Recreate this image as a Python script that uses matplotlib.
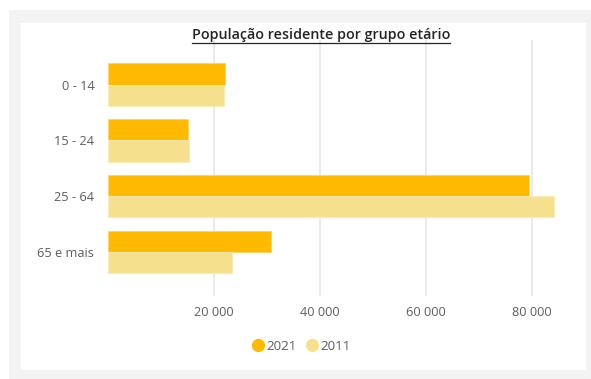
import matplotlib

matplotlib.use("Agg")
import matplotlib.pyplot as plt
from matplotlib.lines import Line2D
from matplotlib.patches import Rectangle
from matplotlib.ticker import FuncFormatter
import numpy as np

# --- Data ---
age_groups = ["0 - 14", "15 - 24", "25 - 64", "65 e mais"]
pop_2021 = [22200, 15250, 79450, 30850]
pop_2011 = [21900, 15450, 84100, 23550]
x_ticks = [20000, 40000, 60000, 80000]
series_labels = ["2021", "2011"]

COLOR_2021 = "#FFB900"
COLOR_2011 = "#F5E08E"
TEXT_GREY = "#605E5C"
TITLE_COLOR = "#252423"

plt.rcParams["font.family"] = ["Open Sans", "DejaVu Sans"]

W, H, dpi = 591, 379, 100
fig = plt.figure(figsize=(W / dpi, H / dpi), dpi=dpi)
fig.patch.set_facecolor("white")

# --- Grey frame with white card (screenshot look) ---
fig.patches.append(Rectangle((9 / W, 0), (W - 9) / W, (H - 10) / H,
                             transform=fig.transFigure, facecolor="#F3F3F3",
                             edgecolor="none", zorder=-10))
fig.patches.append(Rectangle((21 / W, 9 / H), 565 / W, 347 / H,
                             transform=fig.transFigure, facecolor="white",
                             edgecolor="none", zorder=-9))

# --- Axes ---
ax = fig.add_axes([107.5 / W, 1 - 296 / H, 453.5 / W, 256 / H])
ax.set_facecolor("none")

y = np.arange(len(age_groups))
bar_h = 0.38
ax.barh(y - bar_h / 2, pop_2021, height=bar_h, color=COLOR_2021,
        edgecolor="#FFD466", linewidth=0.6, zorder=3)
ax.barh(y + bar_h / 2, pop_2011, height=bar_h, color=COLOR_2011,
        edgecolor="#FAEBB4", linewidth=0.6, zorder=3)

ax.set_xlim(0, 85500)
ax.set_ylim(len(age_groups) - 1 + 0.79, -0.80)
ax.set_yticks(y)
ax.set_yticklabels(age_groups)
ax.set_xticks(x_ticks)
ax.xaxis.set_major_formatter(FuncFormatter(lambda v, p: f"{int(v):,}".replace(",", " ")))

ax.grid(axis="x", color="#EAEAEA", linewidth=1.4, zorder=0)
for s in ax.spines.values():
    s.set_visible(False)
ax.tick_params(axis="both", length=0, labelsize=9.2, labelcolor=TEXT_GREY)
ax.tick_params(axis="y", pad=9.5)
ax.tick_params(axis="x", pad=7)

# --- Title with underline ---
title = fig.text(321 / W, 1 - 35 / H, "População residente por grupo etário",
                 ha="center", va="center", fontsize=10.3, fontweight="semibold",
                 color=TITLE_COLOR)
fig.canvas.draw()
bb = title.get_window_extent().transformed(fig.transFigure.inverted())
uy = 1 - 42.5 / H
fig.add_artist(Line2D([bb.x0, bb.x1], [uy, uy], transform=fig.transFigure,
                      color=TITLE_COLOR, linewidth=0.9))

# --- Legend ---
handles = [Line2D([], [], marker="o", linestyle="none", markersize=9.5,
                  markerfacecolor=c, markeredgecolor="none")
           for c in (COLOR_2021, COLOR_2011)]
fig.legend(handles, series_labels, loc="center", bbox_to_anchor=(301 / W, 1 - 346 / H),
           ncol=2, frameon=False, fontsize=9.6, labelcolor=TEXT_GREY,
           handletextpad=0.1, columnspacing=0.7, handlelength=1.0)

fig.savefig("out.png", dpi=dpi)
